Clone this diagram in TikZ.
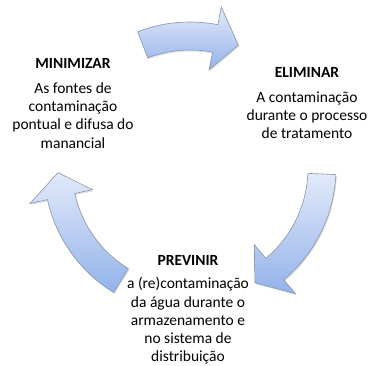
\documentclass[tikz,border=0pt]{standalone}
\usepackage{fontspec}
\setmainfont{Carlito}
\usepackage{tikz}
\usetikzlibrary{positioning, shadows}

\definecolor{cyctop}{HTML}{E2EAFA}
\definecolor{cycbot}{HTML}{93B2EA}
\definecolor{cycline}{HTML}{8A96A8}

\begin{document}
\begin{tikzpicture}[x=1pt, y=1pt,
    cyc/.style={draw=cycline, line width=0.6pt, top color=cyctop, bottom color=cycbot,
      drop shadow={opacity=0.22, shadow xshift=1pt, shadow yshift=-1.5pt}},
    ttl/.style={font=\fontsize{15.5}{18.3}\selectfont\bfseries, inner sep=0pt},
    txt/.style={font=\fontsize{15.5}{18.3}\selectfont, align=center, inner sep=0pt}]
  \useasboundingbox (0,0) rectangle (370,365);
  % cycle arrows (clockwise)
  \begin{scope}[shift={(190,197)}]
    \foreach \a/\b in {111/79, -2.6/-50, -121.5/-167.5}
      \path[cyc] (\a:146pt) arc[start angle=\a, end angle=\b, radius=146pt]
        -- (\b:164pt) -- ({\b-10.5}:132pt) -- (\b:100pt) -- (\b:118pt)
        arc[start angle=\b, end angle=\a, radius=118pt] -- cycle;
  \end{scope}
  % minimizar
  \node[ttl] (minTitle) at (73,302) {MINIMIZAR};
  \node[txt, below=14pt of minTitle] (minText) {As fontes de\\contaminação\\pontual e difusa do\\manancial};
  % eliminar
  \node[ttl] (eliTitle) at (307,293) {ELIMINAR};
  \node[txt, below=14pt of eliTitle] (eliText) {A contaminação\\durante o processo\\de tratamento};
  % previnir
  \node[ttl] (preTitle) at (188,105) {PREVINIR};
  \node[txt, below=12pt of preTitle] (preText) {a (re)contaminação\\da água durante o\\armazenamento e\\no sistema de\\distribuição};
\end{tikzpicture}
\end{document}
